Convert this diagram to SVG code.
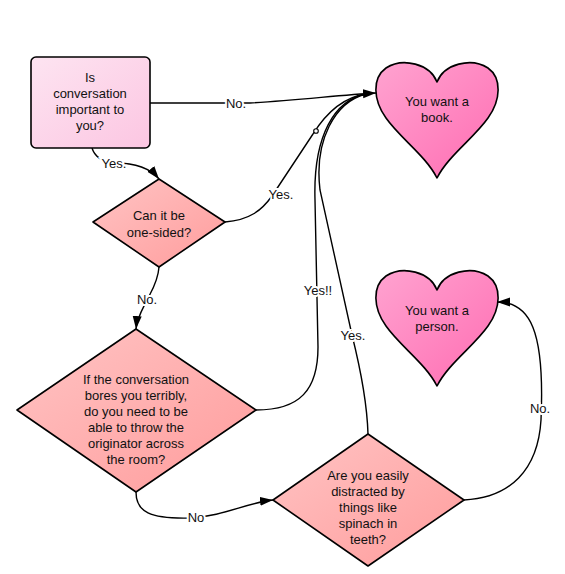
<svg xmlns="http://www.w3.org/2000/svg" width="565" height="574" viewBox="0 0 565 574">
<style>
.t{font-family:"Liberation Sans",Arial,sans-serif;font-size:13px;fill:#111;text-anchor:middle}
.lbl{font-family:"Liberation Sans",Arial,sans-serif;font-size:13px;fill:#111;text-anchor:middle;stroke:#fff;stroke-width:4;paint-order:stroke}
.c{fill:none;stroke:#000;stroke-width:1.4}
.shape{stroke:#000;stroke-width:1.6;stroke-linejoin:round}
</style>
<defs>
<linearGradient id="gRect" x1="0" y1="0" x2="1" y2="1"><stop offset="0" stop-color="#fde4f1"/><stop offset="1" stop-color="#fcc6e2"/></linearGradient>
<linearGradient id="gDia" x1="0" y1="0" x2="1" y2="1"><stop offset="0" stop-color="#ffc4c4"/><stop offset="1" stop-color="#ff9c9c"/></linearGradient>
<linearGradient id="gHeart" x1="0" y1="0" x2="1" y2="1"><stop offset="0" stop-color="#ffa3d0"/><stop offset="1" stop-color="#ff6cb2"/></linearGradient>
<marker id="arr" markerUnits="userSpaceOnUse" markerWidth="14" markerHeight="10" refX="13" refY="4.5" orient="auto"><path d="M0,0 L13,4.5 L0,9 Z" fill="#000"/></marker>
</defs>

<g id="connectors">
<path class="c" d="M150,103 L250,103 C300,100 340,95 376,93" marker-end="url(#arr)"/>
<path class="c" d="M92,148 C95,158 104,162 115,163 C134,163 150,168 159,179" marker-end="url(#arr)"/>
<path class="c" d="M225,222 C250,220 262,210 272,196 L313,134 C328,110 345,97 366,94"/>
<circle cx="316" cy="131" r="2.3" fill="#fff" stroke="#000" stroke-width="1.1"/>
<path class="c" d="M256,410 C300,410 318,390 318,347 L315,200 C313,135 335,100 366,94"/>
<path class="c" d="M368,434 C367,400 357,355 352,335 L320,190 C314,140 335,102 366,94"/>
<path class="c" d="M159,267 C158,282 151,292 147,300 C142,310 137,318 136,329" marker-end="url(#arr)"/>
<path class="c" d="M136,492 C136,512 150,519 190,518 C225,516 245,503 273,500" marker-end="url(#arr)"/>
<path class="c" d="M464,500 C510,498 538,470 541,420 C545,330 530,302 497,302" marker-end="url(#arr)"/>
<text class="lbl" x="236" y="108">No.</text>
<text class="lbl" x="114" y="168">Yes.</text>
<text class="lbl" x="281" y="199">Yes.</text>
<text class="lbl" x="318" y="295">Yes!!</text>
<text class="lbl" x="353" y="340">Yes.</text>
<text class="lbl" x="147" y="304">No.</text>
<text class="lbl" x="196" y="522">No</text>
<text class="lbl" x="540" y="413">No.</text>
</g>

<g id="start">
<rect class="shape" x="31" y="57" width="119" height="91" rx="5" fill="url(#gRect)"/>
<text class="t" x="90" y="82">Is</text>
<text class="t" x="90" y="98">conversation</text>
<text class="t" x="90" y="114">important to</text>
<text class="t" x="90" y="130">you?</text>
</g>

<g id="book">
<path class="shape" fill="url(#gHeart)" transform="translate(376,60)" d="M61,22 C68,4 95,-3 112,8 C126,18 125,40 112,58 C98,78 72,96 61,118 C50,96 24,78 10,58 C-3,40 -4,18 10,8 C27,-3 54,4 61,22 Z"/>
<text class="t" x="437" y="106">You want a</text>
<text class="t" x="437" y="122">book.</text>
</g>

<g id="person">
<path class="shape" fill="url(#gHeart)" transform="translate(376,268)" d="M61,22 C68,4 95,-3 112,8 C126,18 125,40 112,58 C98,78 72,96 61,118 C50,96 24,78 10,58 C-3,40 -4,18 10,8 C27,-3 54,4 61,22 Z"/>
<text class="t" x="437" y="315">You want a</text>
<text class="t" x="437" y="331">person.</text>
</g>

<g id="onesided">
<path class="shape" fill="url(#gDia)" d="M159,179 L225,222 L159,267 L93,222 Z"/>
<text class="t" x="159" y="220">Can it be</text>
<text class="t" x="159" y="237">one-sided?</text>
</g>

<g id="throw">
<path class="shape" fill="url(#gDia)" d="M136,329 L256,410 L136,492 L17,410 Z"/>
<text class="t" x="136" y="384">If the conversation</text>
<text class="t" x="136" y="400">bores you terribly,</text>
<text class="t" x="136" y="416">do you need to be</text>
<text class="t" x="136" y="432">able to throw the</text>
<text class="t" x="136" y="448">originator across</text>
<text class="t" x="136" y="464">the room?</text>
</g>

<g id="spinach">
<path class="shape" fill="url(#gDia)" d="M368,434 L464,500 L368,566 L273,500 Z"/>
<text class="t" x="368" y="480">Are you easily</text>
<text class="t" x="368" y="496">distracted by</text>
<text class="t" x="368" y="512">things like</text>
<text class="t" x="368" y="528">spinach in</text>
<text class="t" x="368" y="544">teeth?</text>
</g>
</svg>
